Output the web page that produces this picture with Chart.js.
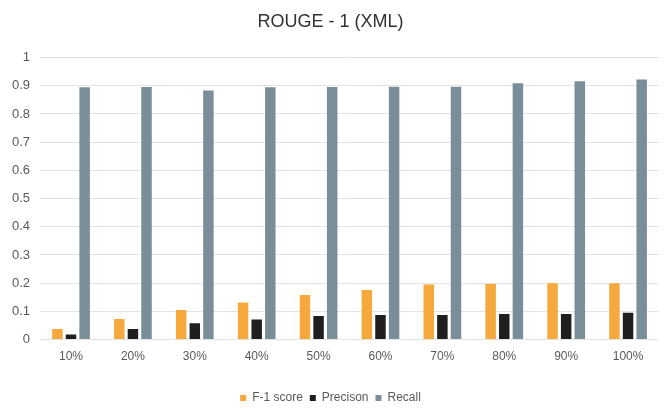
<!DOCTYPE html>
<html>
<head>
<meta charset="utf-8">
<script src="https://cdn.jsdelivr.net/npm/chart.js@4"></script>
<style>
  html, body { margin: 0; padding: 0; background: #fff; }
  #wrap { width: 668px; height: 411px; position: relative; }
</style>
</head>
<body>
<div id="wrap"><canvas id="chart"></canvas></div>
<script>
// data
const categories = ['10%', '20%', '30%', '40%', '50%', '60%', '70%', '80%', '90%', '100%'];
const f1Score   = [0.038, 0.073, 0.105, 0.132, 0.158, 0.176, 0.195, 0.197, 0.200, 0.200];
const precision = [0.018, 0.038, 0.058, 0.071, 0.084, 0.087, 0.087, 0.091, 0.091, 0.095];
const recall    = [0.895, 0.896, 0.883, 0.895, 0.896, 0.897, 0.897, 0.909, 0.916, 0.922];

const ORANGE = '#F5A93C';
const BLACK = '#1f1f1f';
const SLATE = '#7a8e9a';

Chart.defaults.font.family = "'Liberation Sans', Arial, sans-serif";
Chart.defaults.color = '#595959';

const bar = { barPercentage: 0.77, categoryPercentage: 0.66 };

new Chart(document.getElementById('chart'), {
    type: 'bar',
    data: {
        labels: categories,
        datasets: [
            { label: 'F-1 score', data: f1Score, backgroundColor: ORANGE, ...bar },
            { label: 'Precison', data: precision, backgroundColor: BLACK, ...bar },
            { label: 'Recall', data: recall, backgroundColor: SLATE, ...bar },
        ],
    },
    options: {
        responsive: true, maintainAspectRatio: false,
        animation: false,
        layout: { padding: { left: 2, right: 9, top: 4, bottom: -3 } },
        plugins: {
            title: {
                display: true, text: 'ROUGE - 1 (XML)',
                color: '#333', font: { size: 18, weight: 'normal' },
                padding: { top: 7, bottom: 25 },
            },
            legend: {
                position: 'bottom',
                labels: { boxWidth: 6, boxHeight: 6, padding: 7, font: { size: 12 } },
            },
            tooltip: { enabled: false },
        },
        scales: {
            x: {
                grid: { display: false },
                border: { display: false },
                ticks: { font: { size: 12 }, padding: 2 },
                afterFit: s => { s.height += 19; },
            },
            y: {
                min: 0, max: 1,
                grid: { color: '#e3e3e3', drawTicks: false },
                border: { display: false },
                ticks: {
                    stepSize: 0.1, font: { size: 13 }, padding: 10,
                    callback: v => String(Number(v.toFixed(1))),
                },
            },
        },
    },
});
</script>
</body>
</html>
